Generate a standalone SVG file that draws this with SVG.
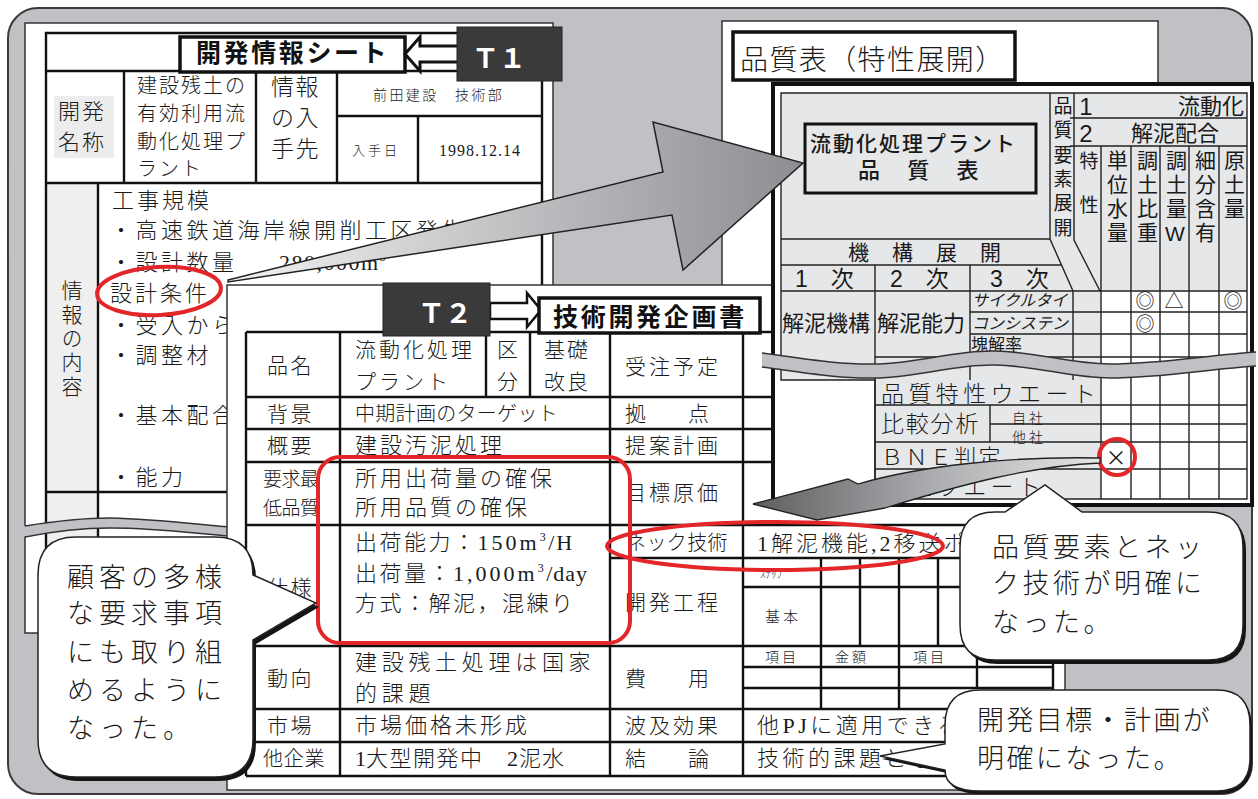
<svg xmlns="http://www.w3.org/2000/svg" width="1258" height="799" viewBox="0 0 1258 799">
<defs>
<style>
.m{font-family:"Liberation Serif","Noto Sans CJK JP",serif;fill:#1a1a1a;font-weight:300}
.g{font-family:"Liberation Sans","Noto Sans CJK JP",sans-serif;fill:#1a1a1a}
.b{font-family:"Liberation Sans","Noto Sans CJK JP",sans-serif;font-weight:700;fill:#111}
.t{font-family:"Liberation Sans","Noto Sans CJK JP",sans-serif;font-weight:700;fill:#fff}
.v{writing-mode:vertical-rl;text-orientation:upright}
.paper{fill:#fff;stroke:#333;stroke-width:1.5}
.tl{stroke:#111;stroke-width:2.4;fill:none}
.bl{stroke:#222;stroke-width:1.4;fill:none}
.red{fill:none;stroke:#e3262a;stroke-width:4}
.co{fill:#fff;stroke:#222;stroke-width:1.5}
.sh{fill:#151515}
.lbl{fill:#3a3a3a;stroke:#222;stroke-width:1}
.bandf{fill:#c0c1c5;stroke:none}
.bands{fill:none;stroke:#333;stroke-width:1.5}
</style>
<linearGradient id="ga" x1="228" y1="0" x2="803" y2="0" gradientUnits="userSpaceOnUse">
<stop offset="0" stop-color="#f2f2f3"/><stop offset="1" stop-color="#8d8e92"/></linearGradient>
<linearGradient id="gb" x1="753" y1="0" x2="1100" y2="0" gradientUnits="userSpaceOnUse">
<stop offset="0" stop-color="#5e5e60"/><stop offset="0.5" stop-color="#a9aaad"/><stop offset="1" stop-color="#e6e6e6"/></linearGradient>
</defs>

<rect x="8" y="8" width="1244" height="786" rx="30" fill="#c0c1c5" stroke="#3a3a3a" stroke-width="2"/>

<g id="sheet-quality">
<rect class="paper" x="722" y="21" width="436" height="270"/>
<rect x="733" y="32" width="282" height="48" fill="#fff" stroke="#111" stroke-width="3.5"/>
<text class="m" x="740" y="70" font-size="28" letter-spacing="1.4">品質表（特性展開）</text>
</g>

<g id="sheet-t1">
<rect class="paper" x="25" y="23" width="528" height="610"/>
<rect x="46" y="183" width="52" height="450" fill="#efefef"/>
<rect x="54" y="96" width="60" height="62" fill="#ececec"/>
<path class="tl" d="M46,71H542M46,183H542M46,492H542M124,71V183M256,71V183M337,71V183M337,116H542M418,116V183M98,183V633"/>
<path class="tl" stroke-width="3" d="M46,633V33H542V300"/>
<text class="m" x="58" y="119" font-size="22" letter-spacing="2">開発</text>
<text class="m" x="58" y="150" font-size="22" letter-spacing="2">名称</text>
<text class="m" x="137" y="93" font-size="20" letter-spacing="2">建設残土の</text>
<text class="m" x="137" y="121" font-size="20" letter-spacing="2">有効利用流</text>
<text class="m" x="137" y="149" font-size="20" letter-spacing="2">動化処理プ</text>
<text class="m" x="137" y="176" font-size="20" letter-spacing="2">ラント</text>
<text class="m" x="271" y="95" font-size="23" letter-spacing="1.5">情報</text>
<text class="m" x="271" y="126" font-size="23" letter-spacing="1.5">の入</text>
<text class="m" x="271" y="157" font-size="23" letter-spacing="1.5">手先</text>
<text class="m" x="373" y="100" font-size="14" letter-spacing="2.4">前田建設　技術部</text>
<text class="m" x="352" y="155" font-size="13" letter-spacing="3">入手日</text>
<text class="m" x="439" y="156" font-size="16" letter-spacing="1">1998.12.14</text>
<text class="m" x="112" y="208" font-size="22" letter-spacing="3">工事規模</text>
<text class="m" x="110" y="238" font-size="22" letter-spacing="3.5">・高速鉄道海岸線開削工区発生土</text>
<text class="m" x="110" y="270" font-size="22" letter-spacing="3.5">・設計数量<tspan x="279" letter-spacing="1.5">280,000m</tspan><tspan font-size="12" dy="-9">3</tspan></text>
<text class="m" x="110" y="301" font-size="22" letter-spacing="3">設計条件</text>
<text class="m" x="110" y="333" font-size="22" letter-spacing="3.5">・受入から</text>
<text class="m" x="110" y="363" font-size="22" letter-spacing="3.5">・調整材</text>
<text class="m" x="110" y="423" font-size="22" letter-spacing="3.5">・基本配合</text>
<text class="m" x="110" y="485" font-size="22" letter-spacing="3.5">・能力</text>
<text class="m v" x="70" y="280" font-size="21" letter-spacing="3">情報の内容</text>
<path class="bandf" d="M16,527 C50,522 80,518 110,518 C160,519 200,525 240,528 L240,537 C200,534 160,528 110,528 C80,528 50,532 16,538 Z"/>
<path class="bands" d="M25,526 C50,522 80,518 110,518 C160,519 200,525 240,528 M25,537 C50,532 80,528 110,528 C160,528 200,534 240,537"/>
<rect x="180" y="37" width="225" height="35" fill="#fff" stroke="#111" stroke-width="3.5"/>
<text class="b" x="196" y="62" font-size="25" letter-spacing="2.6">開発情報シート</text>
<path d="M405,54 L420,37 V46 H460 V62 H420 V71 Z" fill="#fff" stroke="#111" stroke-width="3"/>
<rect class="lbl" x="457" y="27" width="105" height="54"/>
<text class="t" x="472" y="68" font-size="27">Ｔ１</text>
</g>

<g id="sheet-t2">
<rect class="paper" x="227" y="285" width="838" height="505"/>
<path class="tl" d="M246,332H1053M246,397H1053M246,429H1053M246,462H1053M246,525H1053M610,558H1053M246,646H1053M246,709H1053M246,742H1053M246,776H1053M246,332V776M340,332V776M486,332V397M530,332V397M610,332V776M743,332V776M1053,332V776"/>
<path class="tl" stroke-width="2" d="M743,587H1053M821,558V646M860,558V646M899,558V646M938,558V646M977,558V646M1016,558V646M743,667H1053M743,688H1053M821,646V709M899,646V709M977,646V688"/>
<text class="m" x="267" y="373" font-size="21" letter-spacing="2.5">品名</text>
<text class="m" x="355" y="357" font-size="21" letter-spacing="3">流動化処理</text>
<text class="m" x="355" y="389" font-size="21" letter-spacing="3">プラント</text>
<text class="m" x="497" y="357" font-size="21">区</text>
<text class="m" x="497" y="389" font-size="21">分</text>
<text class="m" x="544" y="357" font-size="21" letter-spacing="2">基礎</text>
<text class="m" x="544" y="389" font-size="21" letter-spacing="2">改良</text>
<text class="m" x="625" y="374" font-size="21" letter-spacing="3">受注予定</text>
<text class="m" x="267" y="421" font-size="21" letter-spacing="2.5">背景</text>
<text class="m" x="355" y="421" font-size="20" letter-spacing="0.3">中期計画のターゲット</text>
<text class="m" x="625" y="421" font-size="21">拠　　点</text>
<text class="m" x="267" y="453" font-size="21" letter-spacing="2.5">概要</text>
<text class="m" x="355" y="453" font-size="22" letter-spacing="3">建設汚泥処理</text>
<text class="m" x="625" y="453" font-size="21" letter-spacing="3">提案計画</text>
<text class="m" x="263" y="486" font-size="19" letter-spacing="-0.5">要求最</text>
<text class="m" x="263" y="515" font-size="19" letter-spacing="-0.5">低品質</text>
<text class="m" x="355" y="486" font-size="22" letter-spacing="3">所用出荷量の確保</text>
<text class="m" x="355" y="515" font-size="22" letter-spacing="3">所用品質の確保</text>
<text class="m" x="625" y="500" font-size="21" letter-spacing="3">目標原価</text>
<text class="m" x="267" y="595" font-size="21" letter-spacing="2.5">仕様</text>
<text class="m" x="355" y="550" font-size="22" letter-spacing="2.5">出荷能力：<tspan letter-spacing="3">150m</tspan><tspan font-size="12" dy="-9">3</tspan><tspan dy="9" letter-spacing="2">/H</tspan></text>
<text class="m" x="355" y="581" font-size="22" letter-spacing="2.5">出荷量：<tspan letter-spacing="3">1,000m</tspan><tspan font-size="12" dy="-9">3</tspan><tspan dy="9" letter-spacing="1">/day</tspan></text>
<text class="m" x="355" y="611" font-size="22" letter-spacing="2.5">方式：解泥，混練り</text>
<text class="m" x="626" y="550" font-size="20" letter-spacing="0.4">ネック技術</text>
<text class="m" x="625" y="610" font-size="21" letter-spacing="3">開発工程</text>
<text class="m" x="757" y="551" font-size="22" letter-spacing="3">1解泥機能,2移送ポ</text>
<text class="m" x="760" y="578" font-size="11" fill="#555">ｽﾃｯﾌﾟ</text>
<text class="m" x="765" y="622" font-size="15" letter-spacing="3">基本</text>
<text class="m" x="765" y="662" font-size="14" letter-spacing="3">項目</text>
<text class="m" x="835" y="662" font-size="14" letter-spacing="3">金額</text>
<text class="m" x="913" y="662" font-size="14" letter-spacing="3">項目</text>
<text class="m" x="267" y="686" font-size="21" letter-spacing="2.5">動向</text>
<text class="m" x="355" y="670" font-size="22" letter-spacing="4.7">建設残土処理は国家</text>
<text class="m" x="355" y="701" font-size="22" letter-spacing="4.7">的課題</text>
<text class="m" x="625" y="686" font-size="21">費　　用</text>
<text class="m" x="267" y="733" font-size="21" letter-spacing="2.5">市場</text>
<text class="m" x="355" y="733" font-size="22" letter-spacing="3">市場価格未形成</text>
<text class="m" x="625" y="733" font-size="21" letter-spacing="3">波及効果</text>
<text class="m" x="757" y="733" font-size="22" letter-spacing="3.5">他PJに適用できる</text>
<text class="m" x="263" y="766" font-size="20" letter-spacing="0.7">他企業</text>
<text class="m" x="355" y="766" font-size="22">1<tspan x="366" letter-spacing="1.5">大型開発中</tspan><tspan x="507">2</tspan><tspan x="519" letter-spacing="1">泥水</tspan></text>
<text class="m" x="625" y="766" font-size="21">結　　論</text>
<text class="m" x="757" y="766" font-size="22" letter-spacing="3.5">技術的課題とな</text>
<path d="M490,303 H527 V293 L541,310 L527,327 V319 H490 Z" fill="#fff" stroke="#111" stroke-width="2.5"/>
<rect class="lbl" x="383" y="283" width="107" height="53"/>
<text class="t" x="418" y="323" font-size="27">Ｔ２</text>
<rect x="539" y="298" width="221" height="35" fill="#fff" stroke="#111" stroke-width="3.5"/>
<text class="b" x="553" y="326" font-size="25" letter-spacing="2.7">技術開発企画書</text>
</g>

<g id="quality-table">
<rect x="773" y="84" width="479" height="421" fill="#fff" stroke="#111" stroke-width="4"/>
<path d="M781,93H1247V291H1101V499H875V380H781Z" fill="#e6e7e9"/>
<path class="bl" d="M781,93H1247V499H875V380H781Z"/>
<path class="bl" d="M1070,118H1247M1070,146H1247M1050,93V239L1073,291M1074,93V240L1100,291M1101,146V499M1131,146V499M1160,146V499M1189,146V499M1219,146V499M781,239H1050M781,265H1062M781,291H1247M875,265V499M970,265V380M1073,291V380M970,312H1247M970,334H1247M875,357H1247M875,405H1247M990,424H1247M875,442H1247M875,469H1247M990,405V442"/>
<rect x="805" y="124" width="231" height="69" fill="#e6e7e9" stroke="#111" stroke-width="3"/>
<text class="g" x="810" y="151" font-size="21" letter-spacing="2" font-weight="500">流動化処理プラント</text>
<text class="g" x="858" y="178" font-size="22" letter-spacing="2.6" font-weight="500">品　質　表</text>
<text class="g v" x="1061" y="96" font-size="19" letter-spacing="5.4">品質要素展開</text>
<text class="g v" x="1087" y="151" font-size="19" letter-spacing="25">特性</text>
<text class="g" x="1086" y="115" font-size="24" text-anchor="middle">1</text>
<text class="g" x="1086" y="142" font-size="24" text-anchor="middle">2</text>
<text class="g" x="1244" y="114" font-size="22" text-anchor="end">流動化</text>
<text class="g" x="1175" y="141" font-size="22" text-anchor="middle">解泥配合</text>
<text class="g v" x="1116" y="150" font-size="21" letter-spacing="3">単位水量</text>
<text class="g v" x="1146" y="150" font-size="21" letter-spacing="3">調土比重</text>
<text class="g v" x="1175" y="150" font-size="21" letter-spacing="3">調土量W</text>
<text class="g v" x="1204" y="150" font-size="21" letter-spacing="3">細分含有</text>
<text class="g v" x="1233" y="150" font-size="21" letter-spacing="3">原土量</text>
<text class="g" x="848" y="260" font-size="21" letter-spacing="1">機　構　展　開</text>
<text class="g" x="795" y="287" font-size="23">1　次</text>
<text class="g" x="890" y="287" font-size="23">2　次</text>
<text class="g" x="990" y="287" font-size="23">3　次</text>
<text class="g" x="782" y="331" font-size="22">解泥機構</text>
<text class="g" x="877" y="331" font-size="22">解泥能力</text>
<text class="g" x="972" y="306" font-size="16" font-style="italic">サイクルタイ</text>
<text class="g" x="972" y="329" font-size="16" font-style="italic">コンシステン</text>
<text class="g" x="971" y="351" font-size="17">塊解率</text>
<text class="g" font-size="19" text-anchor="middle"><tspan x="1145" y="308">◎</tspan><tspan x="1174" y="308">△</tspan><tspan x="1233" y="308">◎</tspan></text>
<text class="g" x="1145" y="331" font-size="19" text-anchor="middle">◎</text>
<text x="1116" y="465" font-family="Noto Sans CJK JP, sans-serif" font-size="21" text-anchor="middle" fill="#1a1a1a">×</text>
<text class="m" x="881" y="402" font-size="23" letter-spacing="4.4">品質特性ウエート</text>
<text class="m" x="881" y="432" font-size="23" letter-spacing="1.8">比較分析</text>
<text class="m" x="1012" y="423" font-size="14" letter-spacing="3">自社</text>
<text class="m" x="1012" y="442" font-size="14" letter-spacing="3">他社</text>
<text class="m" x="881" y="465" font-size="22" letter-spacing="2.4">ＢＮＥ判定</text>
<text class="m" x="881" y="495" font-size="23" letter-spacing="4.4">修正ウエート</text>
<path class="bandf" d="M762,353 C800,358 840,365 875,364 C920,363 955,350 995,351 C1040,352 1070,364 1110,364 C1160,364 1210,355 1256,352 L1256,366 C1210,369 1160,378 1110,378 C1070,378 1040,366 995,365 C955,364 920,377 875,378 C840,379 800,372 762,367 Z"/>
<path class="bands" d="M762,353 C800,358 840,365 875,364 C920,363 955,350 995,351 C1040,352 1070,364 1110,364 C1160,364 1210,355 1256,352 M1256,366 C1210,369 1160,378 1110,378 C1070,378 1040,366 995,365 C955,364 920,377 875,378 C840,379 800,372 762,367"/>
</g>

<g id="connectors">
<path d="M228,280 L663,172 L653,122 L803,163 L683,270 L672,215 L228,282 Z" fill="url(#ga)" stroke="#222" stroke-width="1.5" stroke-linejoin="miter"/>
<ellipse class="red" cx="159" cy="291" rx="62" ry="24" transform="rotate(-3 159 291)"/>
<rect class="red" x="318" y="457" width="312" height="186" rx="22" stroke-width="3.5"/>
<ellipse class="red" cx="775" cy="546" rx="168" ry="24"/>
<circle class="red" cx="1117" cy="457" r="18"/>
<path d="M1100,458 C1010,456 920,466 858,484 L848,479 L753,504 L817,520 L885,508 C960,485 1030,466 1100,463 Z" fill="url(#gb)" stroke="#222" stroke-width="1.3"/>
</g>

<g id="callout-customer">
<path class="sh" transform="translate(3,4)" d="M76,537 H215 Q253,537 253,575 L316,603 L253,640 V739 Q253,777 215,777 H76 Q38,777 38,739 V575 Q38,537 76,537 Z"/>
<path class="co" d="M76,537 H215 Q253,537 253,575 L316,603 L253,640 V739 Q253,777 215,777 H76 Q38,777 38,739 V575 Q38,537 76,537 Z"/>
<g class="m" font-size="27" letter-spacing="5">
<text x="67" y="587">顧客の多様</text><text x="67" y="623">な要求事項</text><text x="67" y="662">にも取り組</text><text x="67" y="700">めるように</text><text x="67" y="738">なった。</text>
</g>
</g>

<g id="callout-neck">
<path class="sh" transform="translate(3,4)" d="M995,512 H1005 L1045,485 L1082,512 H1208 Q1243,512 1243,547 V625 Q1243,660 1208,660 H995 Q960,660 960,625 V547 Q960,512 995,512 Z"/>
<path class="co" d="M995,512 H1005 L1045,485 L1082,512 H1208 Q1243,512 1243,547 V625 Q1243,660 1208,660 H995 Q960,660 960,625 V547 Q960,512 995,512 Z"/>
<g class="m" font-size="27" letter-spacing="3.5">
<text x="992" y="557">品質要素とネッ</text><text x="992" y="593">ク技術が明確に</text><text x="992" y="632">なった。</text>
</g>
</g>

<g id="callout-plan">
<path class="sh" transform="translate(2,3)" d="M980,690 H1217 Q1250,690 1250,725 V758 Q1250,791 1217,791 H980 Q945,791 945,770 L880,756 L945,744 V725 Q945,690 980,690 Z"/>
<path class="co" d="M980,690 H1217 Q1250,690 1250,725 V758 Q1250,791 1217,791 H980 Q945,791 945,770 L880,756 L945,744 V725 Q945,690 980,690 Z"/>
<g class="m" font-size="27" letter-spacing="2.4">
<text x="977" y="730">開発目標・計画が</text><text x="977" y="768">明確になった。</text>
</g>
</g>
</svg>
